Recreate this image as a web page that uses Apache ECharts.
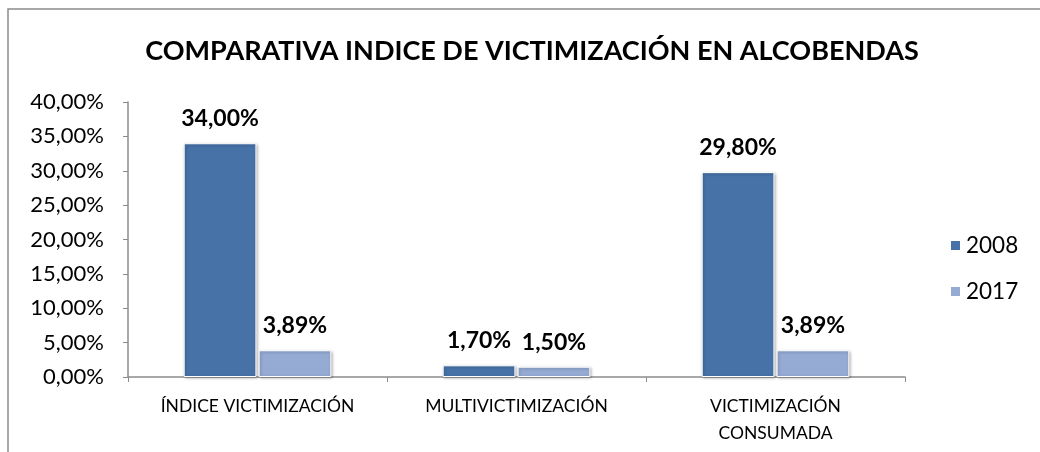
<!DOCTYPE html>
<html>
<head>
<meta charset="utf-8">
<script src="https://cdn.jsdelivr.net/npm/echarts@6/dist/echarts.min.js"></script>
<style>
  html, body { margin: 0; padding: 0; background: #fff; }
  #chart { width: 1040px; height: 452px; }
</style>
</head>
<body>
<div id="chart"></div>
<script>
const categories = ['ÍNDICE VICTIMIZACIÓN', 'MULTIVICTIMIZACIÓN', 'VICTIMIZACIÓN\nCONSUMADA']
const values2008 = [34.0, 1.7, 29.8]
const values2017 = [3.89, 1.5, 3.89]
const seriesNames = ['2008', '2017']

const fontFamily = 'Lato, "Open Sans", sans-serif'

// 34.00 -> "34,00%"
const pct = v => v.toFixed(2).replace('.', ',') + '%'

const chart = echarts.init(document.getElementById('chart'))

const barStyle = color => ({
  color: color,
  borderColor: '#fff',
  borderWidth: 1,
  shadowBlur: 3,
  shadowColor: 'rgba(0,0,0,0.3)',
  shadowOffsetX: 1,
  shadowOffsetY: 1
})

const barLabel = {
  show: true,
  position: 'top',
  distance: 13,
  fontFamily: fontFamily,
  fontWeight: 'bold',
  fontSize: 23,
  color: '#000',
  formatter: p => pct(p.value)
}

chart.setOption({
  animation: false,
  textStyle: { fontFamily: fontFamily },
  graphic: [
    {
      type: 'rect',
      shape: { x: 8, y: 9, width: 1100, height: 500 },
      style: { fill: 'none', stroke: '#8c8c8c', lineWidth: 1.5 },
      silent: true
    }
  ],
  title: {
    text: 'COMPARATIVA INDICE DE VICTIMIZACIÓN EN ALCOBENDAS',
    left: 527,
    textAlign: 'center',
    top: 33,
    textStyle: { fontFamily: fontFamily, fontWeight: 'bold', fontSize: 27, color: '#000' }
  },
  legend: {
    orient: 'vertical',
    left: 944,
    top: 229,
    itemWidth: 11,
    itemHeight: 11,
    itemGap: 23,
    icon: 'rect',
    data: seriesNames,
    textStyle: { fontFamily: fontFamily, fontSize: 22.5, color: '#000' }
  },
  grid: { left: 128, right: 135, top: 102, bottom: 75 },
  xAxis: {
    type: 'category',
    data: categories,
    axisLine: { lineStyle: { color: '#8c8c8c', width: 1.5 } },
    axisTick: { show: true, length: 5, lineStyle: { color: '#8c8c8c' } },
    axisLabel: { fontFamily: fontFamily, fontSize: 17.5, color: '#000', margin: 16, lineHeight: 27, interval: 0 }
  },
  yAxis: {
    type: 'value',
    min: 0,
    max: 40,
    interval: 5,
    splitLine: { show: false },
    axisLine: { show: true, lineStyle: { color: '#8c8c8c', width: 1.5 } },
    axisTick: { show: true, length: 5, lineStyle: { color: '#8c8c8c' } },
    axisLabel: { fontFamily: fontFamily, fontSize: 22, color: '#000', margin: 24, formatter: v => pct(v) }
  },
  series: [
    {
      name: seriesNames[0],
      type: 'bar',
      data: values2008,
      barCategoryGap: '43%',
      barGap: '3%',
      itemStyle: barStyle('#4672a8'),
      label: barLabel
    },
    {
      name: seriesNames[1],
      type: 'bar',
      data: values2017,
      itemStyle: barStyle('#95abd4'),
      label: barLabel
    }
  ]
})
</script>
</body>
</html>
